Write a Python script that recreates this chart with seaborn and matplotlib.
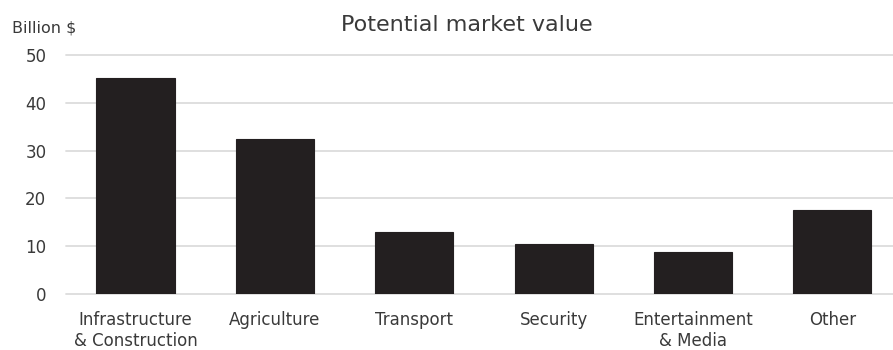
import matplotlib
matplotlib.use("Agg")
import matplotlib.pyplot as plt
import seaborn as sns
import pandas as pd

categories = ["Infrastructure\n& Construction", "Agriculture", "Transport",
              "Security", "Entertainment\n& Media", "Other"]
values = [45.2, 32.4, 13.0, 10.5, 8.8, 17.5]
yticks = [0, 10, 20, 30, 40, 50]

sns.set_theme(style="white")
plt.rcParams["font.family"] = ["DejaVu Sans"]

df = pd.DataFrame({"sector": categories, "value": values})

fig = plt.figure(figsize=(8.93, 3.5), dpi=100)
ax = fig.add_axes([65.8 / 893, 1 - 294 / 350, (893 - 65.8) / 893, (294 - 55) / 350])

sns.barplot(data=df, x="sector", y="value", color="#231f20", saturation=1,
            width=0.56, ax=ax, zorder=3, edgecolor="#231f20", linewidth=0.8)

ax.set_ylim(0, 50)
ax.set_xlim(-0.5, 5.435)
ax.set_yticks(yticks)
ax.yaxis.grid(True, color="#dcdcdc", linewidth=1.3, zorder=0)
for gl in ax.get_ygridlines():
    gl.set_clip_on(False)
ax.xaxis.grid(False)
for s in ax.spines.values():
    s.set_visible(False)

text_color = "#3a3a3a"
ax.tick_params(axis="both", length=0, labelsize=12, colors=text_color)
ax.tick_params(axis="y", pad=14)
ax.tick_params(axis="x", pad=12)
for lbl in ax.get_xticklabels():
    lbl.set_linespacing(1.22)
ax.set_xlabel("")
ax.set_ylabel("")

fig.text(12 / 893, 1 - 28 / 350, "Billion $", fontsize=11.5, color=text_color,
         ha="left", va="center")
fig.text(467 / 893, 1 - 25 / 350, "Potential market value", fontsize=16,
         color=text_color, ha="center", va="center")

fig.savefig("out.png", dpi=100)
